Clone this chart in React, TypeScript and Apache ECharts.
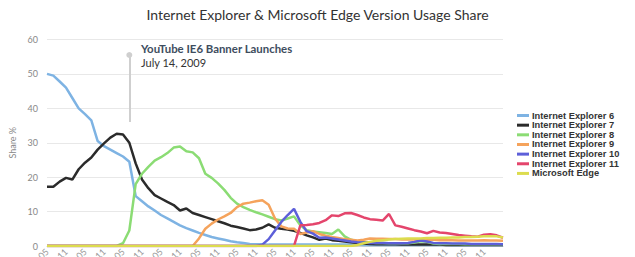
import React, { useEffect, useRef } from "react";
import * as echarts from "echarts";

const startYear = 2007;
const startMonth = 5;
const pointCount = 73;
const categories: string[] = [];
for (let i = 0; i < pointCount; i++) {
  const m = startMonth - 1 + i * 2;
  const y = startYear + Math.floor(m / 12);
  const mm = (m % 12) + 1;
  categories.push(`${y}-${mm < 10 ? "0" + mm : mm}`);
}

const ie6 = [50, 49.5, 47.8, 46, 43, 40, 38.3, 36.5, 30.5, 29, 28, 27, 26, 24.5, 14.5, 13, 11.5, 10.3, 9, 8, 7, 6, 5.2, 4.5, 3.8, 3.2, 2.6, 2.2, 1.8, 1.4, 1.1, 0.9, 0.6, 0.5, 0.5, 0.4, 0.4, 0.4, 0.4, 0.4, 0.4, 0.4, 0.4, 0.4, 0.4, 0.4, 0.4, 0.4, 0.4, 0.4, 0.3, 0.3, 0.3, 0.3, 0.3, 0.3, 0.3, 0.3, 0.3, 0.3, 0.3, 0.3, 0.3, 0.3, 0.2, 0.2, 0.2, 0.2, 0.2, 0.2, 0.2, 0.2, 0.2];
const ie7 = [17.2, 17.2, 18.7, 19.8, 19.3, 22.3, 24.2, 25.7, 28, 29.8, 31.5, 32.6, 32.4, 30, 24, 19.3, 16.8, 14.8, 13.8, 12.8, 11.9, 10.3, 10.9, 9.6, 9, 8.4, 7.8, 7.2, 6.6, 5.9, 5.5, 5.1, 4.6, 4.8, 5.3, 6.3, 5.3, 5, 4.8, 4.4, 3.8, 3.1, 2.5, 1.8, 2.2, 1.7, 1.5, 1.3, 1.1, 0.9, 0.7, 0.6, 0.5, 0.5, 0.5, 0.5, 0.4, 0.4, 0.4, 0.4, 0.4, 0.4, 0.4, 0.3, 0.3, 0.3, 0.3, 0.3, 0.3, 0.3, 0.3, 0.3, 0.3];
const ie8 = [0, 0, 0, 0, 0, 0, 0, 0, 0, 0, 0, 0, 0.8, 4.5, 18, 21, 23, 24.8, 25.8, 27, 28.6, 28.9, 27.5, 27.2, 25.5, 21, 19.8, 18.2, 16.3, 14, 12.3, 11.3, 10.5, 9.8, 9.2, 8.5, 7.8, 7.4, 8, 8.6, 6, 4.6, 4.2, 4, 3.8, 3.5, 4.8, 2.8, 1.8, 1.4, 1.2, 1, 0.9, 0.9, 0.8, 0.8, 0.8, 0.8, 1, 1.4, 1.2, 0.7, 0.6, 0.6, 0.6, 0.6, 0.5, 0.5, 0.5, 0.5, 0.5, 0.5, 0.5];
const ie9 = [0, 0, 0, 0, 0, 0, 0, 0, 0, 0, 0, 0, 0, 0, 0, 0, 0, 0, 0, 0, 0, 0, 0, 0, 2.2, 5, 6.5, 7.7, 8.6, 9.6, 11.3, 12.3, 12.6, 13, 13.3, 12, 8, 5.7, 5.1, 5, 3.5, 3.9, 4.3, 3.5, 3, 2.6, 2.3, 2, 1.8, 1.6, 1.8, 2.2, 2.1, 2.1, 2, 2, 1.9, 1.9, 1.9, 1.8, 1.8, 1.8, 1.7, 1.7, 1.7, 1.6, 1.6, 1.6, 1.6, 1.7, 1.6, 1.6, 1.5];
const ie10 = [0, 0, 0, 0, 0, 0, 0, 0, 0, 0, 0, 0, 0, 0, 0, 0, 0, 0, 0, 0, 0, 0, 0, 0, 0, 0, 0, 0, 0, 0, 0, 0, 0, 0, 0.4, 2, 4.5, 7, 9, 10.8, 7, 4.3, 3.6, 2.4, 2.5, 2.2, 1.9, 1.6, 1.3, 1.1, 1, 0.9, 0.9, 0.9, 0.8, 0.8, 0.8, 0.9, 1.2, 1.6, 1.3, 0.9, 0.8, 0.8, 0.7, 0.7, 0.7, 0.6, 0.6, 0.6, 0.6, 0.6, 0.5];
const ie11 = [0, 0, 0, 0, 0, 0, 0, 0, 0, 0, 0, 0, 0, 0, 0, 0, 0, 0, 0, 0, 0, 0, 0, 0, 0, 0, 0, 0, 0, 0, 0, 0, 0, 0, 0, 0, 0, 0, 0, 0, 6, 6.1, 6.3, 6.7, 7.5, 8.9, 8.7, 9.5, 9.6, 9, 8.3, 7.8, 7.6, 7.4, 9.3, 6, 5.6, 5.1, 4.6, 4.2, 3.7, 4.4, 3.9, 3.8, 3.5, 3.2, 3, 2.8, 2.7, 3.3, 3.4, 3.1, 2.4];
const edge = [0, 0, 0, 0, 0, 0, 0, 0, 0, 0, 0, 0, 0, 0, 0, 0, 0, 0, 0, 0, 0, 0, 0, 0, 0, 0, 0, 0, 0, 0, 0, 0, 0, 0, 0, 0, 0, 0, 0, 0, 0, 0, 0, 0, 0, 0, 0, 0, 0, 0.3, 0.8, 1.2, 1.5, 1.7, 1.9, 2, 2.1, 2.2, 2.2, 2.2, 2.3, 2.3, 2.4, 2.4, 2.5, 2.5, 2.6, 2.6, 2.7, 2.8, 2.8, 2.8, 2.5];

const seriesNames = ["Internet Explorer 6", "Internet Explorer 7", "Internet Explorer 8", "Internet Explorer 9", "Internet Explorer 10", "Internet Explorer 11", "Microsoft Edge"];
const seriesData = [ie6, ie7, ie8, ie9, ie10, ie11, edge];
const colors = ["#7eb3e3", "#2b2b2b", "#8bdc74", "#f5a35c", "#5d5fd9", "#e4456c", "#dcdc4e"];

const annotationIndex = 13;
const annotationRange = [36, 55.5];
const annotationTitle = "YouTube IE6 Banner Launches";
const annotationDate = "July 14, 2009";

export default function App() {
  const ref = useRef<HTMLDivElement>(null);
  useEffect(() => {
    document.body.style.margin = "0";
    if (!ref.current) return;
    const chart = echarts.init(ref.current, undefined, { renderer: "svg" });
    const series: any[] = seriesNames.map((name, k) => ({
      name,
      type: "line",
      data: seriesData[k],
      symbol: "none",
      lineStyle: { width: 2.5, color: colors[k] },
      itemStyle: { color: colors[k] },
      z: 2 + k,
    }));
    series[0].markLine = {
      silent: true,
      symbol: ["none", "circle"],
      symbolSize: 6,
      lineStyle: { color: "#cfcfcf", width: 2, type: "solid" },
      itemStyle: { color: "#cfcfcf" },
      label: { show: false },
      data: [[{ coord: [categories[annotationIndex], annotationRange[0]] }, { coord: [categories[annotationIndex], annotationRange[1]] }]],
    };
    chart.setOption({
      animation: false,
      color: colors,
      title: {
        text: "Internet Explorer & Microsoft Edge Version Usage Share",
        left: "center",
        top: 7,
        padding: 0,
        textStyle: { fontFamily: "Lato", fontSize: 14, fontWeight: "normal", color: "#333" },
      },
      grid: { left: 47, right: 132, top: 39.5, bottom: 11, outerBoundsMode: "none", containLabel: false },
      legend: {
        orient: "vertical",
        left: 517,
        top: 110.7,
        padding: 0,
        icon: "rect",
        itemWidth: 12,
        itemHeight: 3,
        itemGap: 0,
        textStyle: { fontFamily: "Liberation Sans", fontWeight: "bold", fontSize: 9.3, color: "#333", lineHeight: 9.65, padding: [0, 0, 0, -2] },
        data: seriesNames,
      },
      xAxis: {
        type: "category",
        data: categories,
        boundaryGap: false,
        axisLine: { show: true, lineStyle: { color: "#d0d0d0" } },
        axisTick: { show: false },
        splitLine: { show: false },
        axisLabel: {
          rotate: 45,
          margin: 4,
          fontSize: 9,
          color: "#999",
          fontFamily: "Lato",
          interval: (idx: number) => idx % 3 === 0 && idx <= 69,
        },
      },
      yAxis: {
        type: "value",
        min: 0,
        max: 60,
        interval: 10,
        name: "Share %",
        nameLocation: "middle",
        nameGap: 24,
        nameTextStyle: { fontSize: 9, color: "#888", fontFamily: "Lato" },
        axisLine: { show: false },
        axisTick: { show: false },
        axisLabel: { fontSize: 9, color: "#888", margin: 9, fontFamily: "Lato" },
        splitLine: { lineStyle: { color: "#e8e8e8" } },
      },
      graphic: [
        { type: "text", left: 141, top: 43, style: { text: annotationTitle, fontFamily: "Lato", fontWeight: "bold", fontSize: 11.4, fill: "#3e4d5e" } },
        { type: "text", left: 141, top: 57, style: { text: annotationDate, fontFamily: "Lato", fontSize: 11, fill: "#333" } },
      ],
      series,
    });
    return () => chart.dispose();
  }, []);
  return <div ref={ref} style={{ width: 635, height: 257 }} />;
}
